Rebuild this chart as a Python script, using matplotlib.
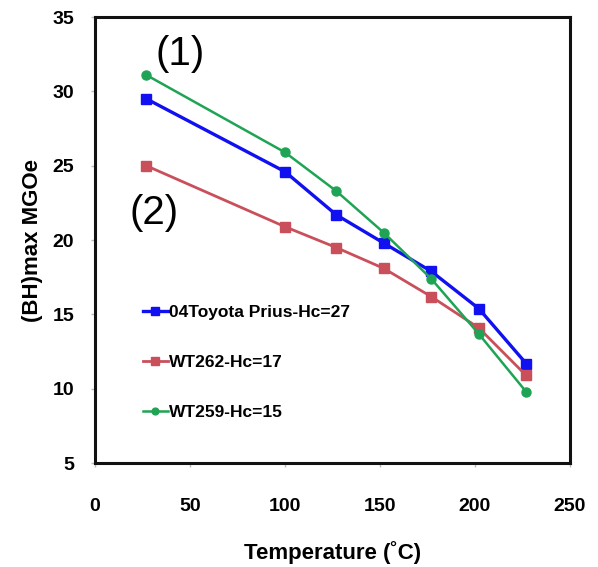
import matplotlib.pyplot as plt

plt.rcParams['font.family'] = ['Liberation Sans', 'DejaVu Sans']

# temperatures (C) and (BH)max values (MGOe)
temps = [27, 100, 127, 152, 177, 202, 227]
prius = [29.5, 24.6, 21.7, 19.8, 17.9, 15.4, 11.7]
wt262 = [25.0, 20.9, 19.5, 18.1, 16.2, 14.1, 10.9]
wt259 = [31.1, 25.9, 23.3, 20.5, 17.4, 13.7, 9.8]
labels = ['04Toyota Prius-Hc=27', 'WT262-Hc=17', 'WT259-Hc=15']

fig = plt.figure(figsize=(5.98, 5.67), dpi=100)
ax = fig.add_axes([0.159, 0.183, 0.794, 0.787])

ax.plot(temps, prius, color='#1010f0', lw=2.4, marker='s', ms=7, label=labels[0])
ax.plot(temps, wt262, color='#c9505a', lw=2.0, marker='s', ms=7, label=labels[1])
ax.plot(temps, wt259, color='#1ea454', lw=1.8, marker='o', ms=6.5, label=labels[2])

ax.set_xlim(0, 250)
ax.set_ylim(5, 35)
ax.set_xticks([0, 50, 100, 150, 200, 250])
ax.set_yticks([5, 10, 15, 20, 25, 30, 35])

for s in ax.spines.values():
    s.set_linewidth(2.2)
    s.set_color('#111111')

ax.tick_params(axis='x', length=3, width=1, color='#bbbbbb', pad=22, labelsize=14)
ax.tick_params(axis='y', length=3, width=1, color='#bbbbbb', pad=12, labelsize=14)
for lab in ax.get_xticklabels() + ax.get_yticklabels():
    lab.set_fontweight('bold')

ax.set_xlabel('Temperature (˚C)', fontsize=16, fontweight='bold', labelpad=19)
ax.set_ylabel('(BH)max MGOe', fontsize=16, fontweight='bold', labelpad=7)

ax.text(45, 32.5, '(1)', fontsize=29, ha='center', va='center')
ax.text(31, 21.8, '(2)', fontsize=29, ha='center', va='center')

leg = ax.legend(loc='upper left', bbox_to_anchor=(0.1, 0.355), frameon=False,
                borderpad=0, borderaxespad=0, labelspacing=2.0,
                handlelength=1.45, handletextpad=0.1, markerscale=0.75,
                prop={'size': 12.5, 'weight': 'bold'})

fig.savefig('out.png', dpi=100)
